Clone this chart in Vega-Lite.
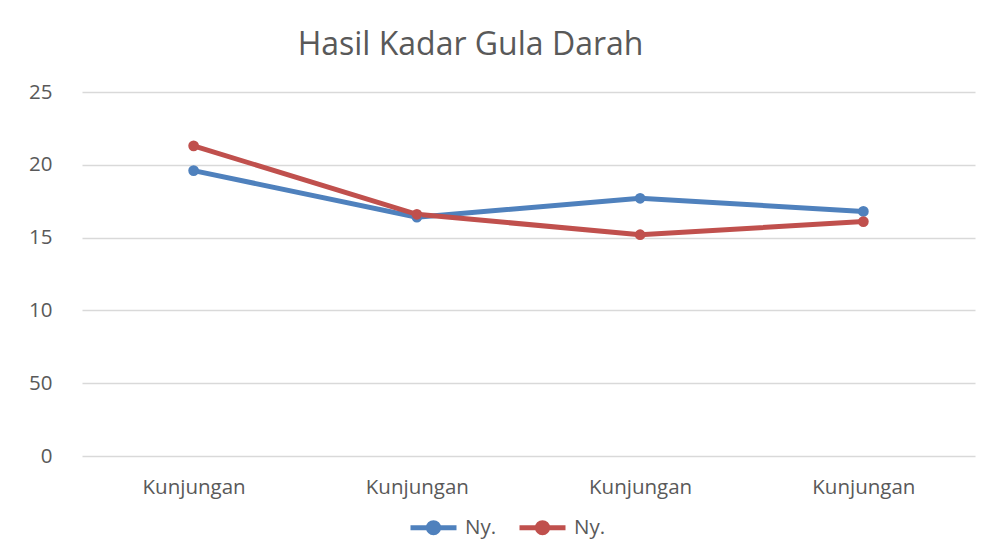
{
  "$schema": "https://vega.github.io/schema/vega-lite/v6.json",
  "width": 893,
  "height": 364,
  "autosize": {"type": "none"},
  "padding": {"left": 82, "top": 92, "right": 14, "bottom": 97},
  "background": "white",
  "title": {
    "text": "Hasil Kadar Gula Darah",
    "fontSize": 32,
    "font": "Open Sans",
    "fontWeight": "normal",
    "color": "#595959",
    "anchor": "middle",
    "dx": -58,
    "offset": 20
  },
  "data": {
    "values": [
      {"kunjungan": "Kunjungan 1", "seri": "Ny. A", "nilai": 196},
      {"kunjungan": "Kunjungan 2", "seri": "Ny. A", "nilai": 164},
      {"kunjungan": "Kunjungan 3", "seri": "Ny. A", "nilai": 177},
      {"kunjungan": "Kunjungan 4", "seri": "Ny. A", "nilai": 168},
      {"kunjungan": "Kunjungan 1", "seri": "Ny. B", "nilai": 213},
      {"kunjungan": "Kunjungan 2", "seri": "Ny. B", "nilai": 166},
      {"kunjungan": "Kunjungan 3", "seri": "Ny. B", "nilai": 152},
      {"kunjungan": "Kunjungan 4", "seri": "Ny. B", "nilai": 161}
    ]
  },
  "mark": {
    "type": "line",
    "strokeWidth": 5,
    "point": {"filled": true, "size": 115}
  },
  "encoding": {
    "x": {
      "field": "kunjungan",
      "type": "ordinal",
      "scale": {"type": "point", "padding": 0.5},
      "axis": {
        "title": null,
        "labelAngle": 0,
        "labelExpr": "split(datum.label, ' ')[0]",
        "domain": false,
        "ticks": false,
        "labelPadding": 21,
        "labelFontSize": 20.5,
        "labelFont": "Open Sans",
        "labelColor": "#595959",
        "grid": false
      }
    },
    "y": {
      "field": "nilai",
      "type": "quantitative",
      "scale": {"domain": [0, 250]},
      "axis": {
        "title": null,
        "values": [0, 50, 100, 150, 200, 250],
        "format": "d",
        "labelExpr": "slice(datum.label, 0, 2)",
        "domain": false,
        "ticks": false,
        "labelPadding": 30,
        "labelFontSize": 20.5,
        "labelFont": "Open Sans",
        "labelColor": "#595959",
        "gridColor": "#d9d9d9",
        "gridWidth": 1.5
      }
    },
    "color": {
      "field": "seri",
      "type": "nominal",
      "scale": {"domain": ["Ny. A", "Ny. B"], "range": ["#4f81bd", "#c0504d"]},
      "legend": {
        "title": null,
        "orient": "none",
        "direction": "horizontal",
        "legendX": 326,
        "legendY": 410,
        "labelExpr": "split(datum.label, ' ')[0]",
        "labelFontSize": 20.5,
        "labelFont": "Open Sans",
        "labelColor": "#595959",
        "symbolType": "M-1,0L1,0M-0.22,0A0.22,0.22 0 1,1 0.22,0A0.22,0.22 0 1,1 -0.22,0Z",
        "symbolSize": 2116,
        "symbolStrokeWidth": 5,
        "columnPadding": 12,
        "labelOffset": 6,
        "encode": {
          "symbols": {"update": {"fill": {"scale": "color", "field": "value"}, "stroke": {"scale": "color", "field": "value"}}}
        }
      }
    }
  },
  "config": {"view": {"stroke": null}}
}
